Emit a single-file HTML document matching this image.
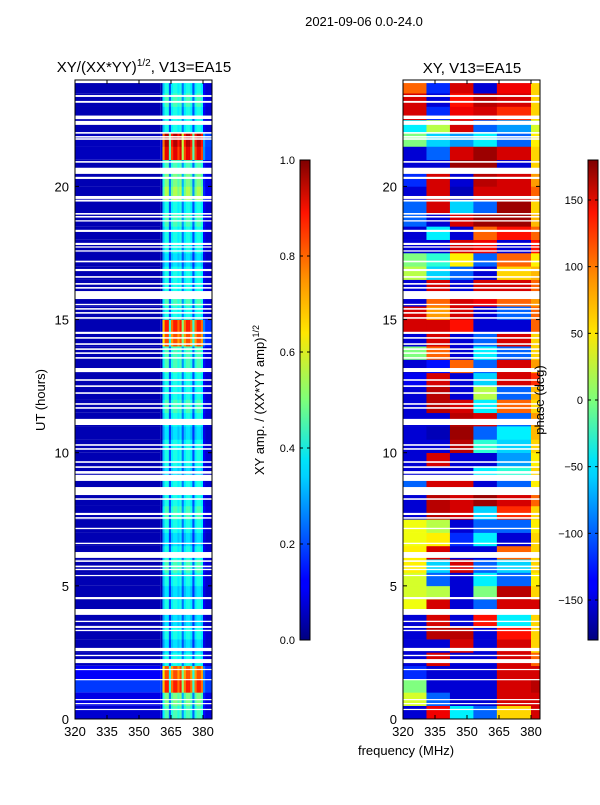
<!DOCTYPE html>
<html><head><meta charset="utf-8">
<style>
body{margin:0;background:#fff;font-family:"Liberation Sans",sans-serif;}
svg text{font-family:"Liberation Sans",sans-serif;fill:#000;}
</style></head>
<body>
<svg id="chart" width="600" height="800" xmlns="http://www.w3.org/2000/svg">
<defs>
<linearGradient id="jet" x1="0" y1="1" x2="0" y2="0">
<stop offset="0" stop-color="#00007f"/><stop offset="0.11" stop-color="#0000ff"/><stop offset="0.125" stop-color="#0000ff"/>
<stop offset="0.34" stop-color="#00d0ff"/><stop offset="0.375" stop-color="#00e4f8"/><stop offset="0.5" stop-color="#7dff7a"/>
<stop offset="0.64" stop-color="#ffe600"/><stop offset="0.75" stop-color="#ff9400"/><stop offset="0.89" stop-color="#ff1300"/>
<stop offset="1" stop-color="#7f0000"/></linearGradient>
</defs>
<text x="364" y="26" font-size="13" text-anchor="middle">2021-09-06 0.0-24.0</text>
<text x="144" y="72" font-size="15" text-anchor="middle">XY/(XX*YY)<tspan font-size="10" dy="-6">1/2</tspan><tspan dy="6">, V13=EA15</tspan></text>
<text x="472" y="73" font-size="15" text-anchor="middle">XY, V13=EA15</text>
<text transform="translate(45,400) rotate(-90)" font-size="13" text-anchor="middle">UT (hours)</text>
<text x="406" y="755" font-size="13" text-anchor="middle">frequency (MHz)</text>
<g id="left"></g>
<g id="right"></g>
<g id="axes"></g>
<rect x="300" y="160" width="10" height="480" fill="url(#jet)" stroke="#000" stroke-width="1"/>
<rect x="588" y="160" width="10" height="480" fill="url(#jet)" stroke="#000" stroke-width="1"/>
<text transform="translate(264,400) rotate(-90)" font-size="13" text-anchor="middle">XY amp. / (XX*YY amp)<tspan font-size="9" dy="-5">1/2</tspan></text>
<text transform="translate(544,400) rotate(-90)" font-size="13" text-anchor="middle">phase (deg)</text>
<g id="cb"></g>
</svg>
<script>
const hourTicks=[0,5,10,15,20];
const freqTicks=[320,335,350,365,380];
const ampTicks=[0.0,0.2,0.4,0.6,0.8,1.0];
const phaseTicks=[-150,-100,-50,0,50,100,150];
const gaps=[[23.88,24],[23.36,23.43],[23.14,23.21],[22.53,22.66],[22.31,22.46],[21.98,22.04],[21.83,21.89],[21.75,21.81],[20.89,20.95],[20.47,20.7],[20.28,20.36],[19.53,19.64],[19.43,19.5],[18.94,19.0],[18.83,18.89],[18.68,18.73],[18.29,18.37],[17.8,17.88],[17.7,17.75],[17.55,17.6],[17.15,17.21],[16.82,16.9],[16.57,16.63],[16.31,16.37],[16.16,16.22],[15.77,16.07],[15.54,15.59],[15.37,15.43],[15.22,15.28],[15.03,15.09],[14.46,14.54],[14.28,14.34],[14.05,14.11],[13.86,13.92],[13.71,13.77],[13.53,13.59],[13.03,13.18],[12.7,12.76],[12.47,12.53],[12.21,12.27],[11.8,11.86],[11.65,11.71],[11.04,11.27],[10.26,10.32],[10.11,10.17],[9.62,9.68],[9.43,9.49],[9.21,9.31],[8.94,9.17],[8.41,8.71],[8.23,8.29],[7.66,7.74],[7.52,7.58],[7.13,7.18],[6.57,6.62],[6.05,6.27],[5.9,5.96],[5.7,5.76],[5.59,5.64],[5.37,5.41],[4.5,4.58],[3.91,4.13],[3.64,3.69],[3.42,3.49],[3.3,3.35],[2.55,2.67],[2.36,2.41],[2.1,2.25],[1.84,1.88],[1.46,1.5],[0.71,0.75],[0.56,0.6],[0.34,0.38]];
// amplitude: per 0.5h row gain, bottom (0h) to top (24h)
const ampRowGain=[0.45,0.5,0.85,0.8,0.4,0.35,0.4,0.35,0.4,0.35,0.4,0.45,0.4,0.35,0.4,0.45,0.4,0.4,0.35,0.4,0.4,0.35,0.4,0.45,0.4,0.4,0.45,0.45,0.8,0.85,0.4,0.45,0.4,0.4,0.35,0.4,0.4,0.45,0.4,0.55,0.5,0.45,0.9,0.95,0.4,0.4,0.45,0.4];
const ampRowBg=[0.08,0.1,0.18,0.12,0.06,0.05,0.05,0.05,0.05,0.05,0.05,0.05,0.05,0.05,0.05,0.05,0.05,0.05,0.05,0.05,0.05,0.05,0.05,0.05,0.05,0.05,0.05,0.05,0.05,0.05,0.05,0.05,0.05,0.05,0.05,0.05,0.05,0.05,0.05,0.05,0.05,0.05,0.06,0.06,0.05,0.05,0.05,0.05];
const ampColStart=360;
const ampColProfile=[0.1,0.8,1,1,0.5,0.9,1,1,0.9,1,0.6,0.9,1,1,0.9,0.5,0.9,1,1,0.9,0.3,0.2,0.2,0.2,0.2];
// phase: per 0.5h row, top (24h) to bottom (0h), 6 frequency bands
const phaseBandEdges=[320,331,342,353,364,380,384.2];
const phaseRowsTopDown=[
[100,-120,150,-150,140,60],[150,-150,130,160,150,60],[150,-120,140,150,120,60],[-50,20,150,-100,-80,30],
[0,-60,-80,-50,-100,50],[-150,-100,150,170,150,60],[-150,-150,170,170,-150,60],[-120,150,-150,160,150,80],
[-150,150,-160,150,150,100],[-100,150,-60,-100,170,60],[-100,-150,150,170,170,70],[-150,-50,-150,100,130,100],
[-150,-150,150,140,-150,130],[0,-30,50,-100,100,50],[20,-60,-100,-150,60,70],[-150,150,-150,150,150,100],
[-150,100,150,140,100,80],[150,80,150,-150,-100,100],[150,150,130,-150,-150,100],[-150,150,-150,-100,150,60],
[0,100,-150,-50,-100,60],[-150,-130,100,-100,150,80],[-140,150,-150,-60,150,120],[-150,160,-150,20,-100,70],
[-150,160,150,-50,100,60],[-150,-150,160,150,-100,80],[-150,-160,170,-100,-50,70],[-150,-150,160,-30,-60,60],
[-150,150,-150,-150,-80,50],[-150,-150,-150,-50,-30,60],[-100,150,150,-150,-100,50],[-150,160,150,170,150,100],
[-150,160,150,-60,120,60],[40,20,-150,-100,-100,50],[40,50,-120,-50,-150,60],[50,150,-150,-150,100,60],
[50,-60,150,-100,-60,60],[30,-100,-150,-50,-100,50],[30,20,-150,0,160,60],[40,150,-150,-100,150,150],
[-150,150,-150,130,-50,60],[-150,160,160,-150,130,60],[-150,-150,150,-150,150,60],[-150,150,-150,-150,150,100],
[-120,-150,-150,-150,150,150],[0,-150,-150,-150,150,160],[30,-100,-150,-150,150,150],[-150,140,-50,-100,60,150]];

const NS='http://www.w3.org/2000/svg';
const Y0=719,PXH=26.63,FMIN=320,PXF=2.1333,LX=75,RX=403,PW=137,TOP=80;
const yOf=h=>Y0-h*PXH;
const xOf=(base,f)=>base+(f-FMIN)*PXF;
function jet(v){v=Math.max(0,Math.min(1,v));
 const r=Math.max(0,Math.min(1,1.5-Math.abs(4*v-3))),g=Math.max(0,Math.min(1,1.5-Math.abs(4*v-2))),b=Math.max(0,Math.min(1,1.5-Math.abs(4*v-1)));
 return `rgb(${Math.round(r*255)},${Math.round(g*255)},${Math.round(b*255)})`;}
function rect(parent,x,y,w,h,fill){const r=document.createElementNS(NS,'rect');
 r.setAttribute('x',x);r.setAttribute('y',y);r.setAttribute('width',w);r.setAttribute('height',h);r.setAttribute('fill',fill);
 parent.appendChild(r);return r;}
const L=document.getElementById('left'),R=document.getElementById('right');
const nRows=ampRowGain.length,dh=24/nRows;
for(let i=0;i<nRows;i++){
 const y1=yOf((i+1)*dh),y2=yOf(i*dh);
 const bg=rect(L,LX,y1,xOf(LX,ampColStart)-LX,y2-y1,jet(ampRowBg[i]));
 
 
 for(let c=0;c<ampColProfile.length;c++){
  const f=ampColStart+c;const x1=xOf(LX,f);const x2=Math.min(LX+PW,xOf(LX,f+1));if(x2<=x1)continue;
  const v=Math.max(ampRowBg[i],ampRowGain[i]*ampColProfile[c]);
  const r=rect(L,x1,y1,x2-x1+0.3,y2-y1+0.3,jet(v));
  
  
 }
 const pr=phaseRowsTopDown[nRows-1-i];
 for(let b=0;b<pr.length;b++){
  const x1=xOf(RX,phaseBandEdges[b]),x2=Math.min(RX+PW,xOf(RX,phaseBandEdges[b+1]));
  const r=rect(R,x1,y1,x2-x1+0.3,y2-y1+0.3,jet((pr[b]+180)/360));
  
  
 }
}
for(const [a,b] of gaps){for(const base of [LX,RX]){
 const g=rect(base===LX?L:R,base,yOf(b),PW,Math.max(1.2,yOf(a)-yOf(b)),'#fff');
 
 
}}
const A=document.getElementById('axes');
function line(p,x1,y1,x2,y2,w){const l=document.createElementNS(NS,'line');
 l.setAttribute('x1',x1);l.setAttribute('y1',y1);l.setAttribute('x2',x2);l.setAttribute('y2',y2);l.setAttribute('stroke','#000');l.setAttribute('stroke-width',w||1);p.appendChild(l);return l;}
function text(p,x,y,s,anchor,size){const t=document.createElementNS(NS,'text');
 t.setAttribute('x',x);t.setAttribute('y',y);t.setAttribute('text-anchor',anchor);t.setAttribute('font-size',size||13);t.textContent=s;p.appendChild(t);return t;}
for(const base of [LX,RX]){
 const fr=document.createElementNS(NS,'rect');
 fr.setAttribute('x',base);fr.setAttribute('y',TOP);fr.setAttribute('width',PW);fr.setAttribute('height',Y0-TOP);
 fr.setAttribute('fill','none');fr.setAttribute('stroke','#000');
 
 
 A.appendChild(fr);
 for(const h of hourTicks){const y=yOf(h);line(A,base,y,base+4,y);line(A,base+PW,y,base+PW-4,y);
  const t=text(A,base-6,y+5,String(h),'end');
  
  }
 for(const f of freqTicks){const x=xOf(base,f);line(A,x,Y0,x,Y0-4);line(A,x,TOP,x,TOP+4);
  const t=text(A,x,736,String(f),'middle');
  
  }
}
const CB=document.getElementById('cb');
for(const v of ampTicks){const y=640-v*480;line(CB,300,y,303,y);line(CB,310,y,307,y);
 const t=text(CB,295,y+4,v.toFixed(1),'end',11);
 
 }
for(const v of phaseTicks){const y=400-v*480/360;line(CB,588,y,591,y);line(CB,598,y,595,y);
 const t=text(CB,583,y+4,v<0?'\u2212'+(-v):String(v),'end',11);
 
 }
</script>
</body></html>
